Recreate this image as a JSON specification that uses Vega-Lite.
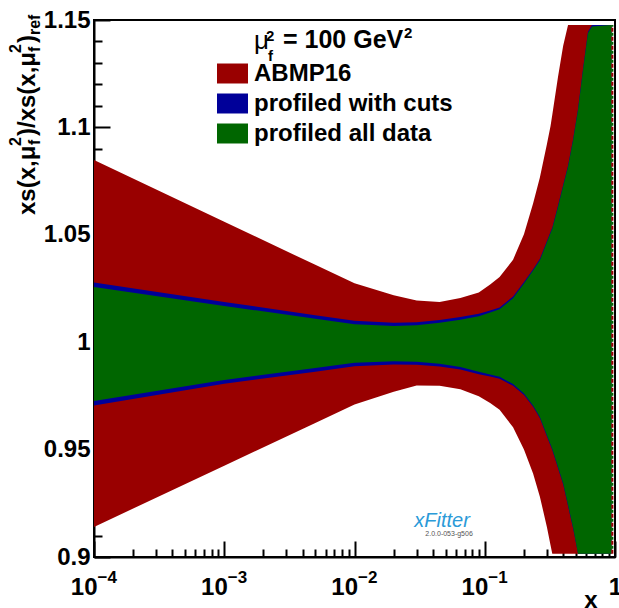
{
  "$schema": "https://vega.github.io/schema/vega-lite/v6.json",
  "width": 521,
  "height": 537,
  "autosize": {"type": "none"},
  "padding": {"left": 94, "top": 20, "right": 4, "bottom": 51},
  "config": {
    "view": {"stroke": "black", "strokeWidth": 2},
    "font": "Liberation Sans",
    "axis": {"grid": false, "tickColor": "black", "domainColor": "black", "labelColor": "black", "titleColor": "black", "zindex": 1}
  },
  "datasets": {
    "bands": [
      {"set": "ABMP16", "x": 0.0001, "lo": 0.914, "hi": 1.0848},
      {"set": "ABMP16", "x": 0.001, "lo": 0.9425, "hi": 1.0561},
      {"set": "ABMP16", "x": 0.005, "lo": 0.9624, "hi": 1.036},
      {"set": "ABMP16", "x": 0.01, "lo": 0.971, "hi": 1.0274},
      {"set": "ABMP16", "x": 0.02, "lo": 0.9769, "hi": 1.0218},
      {"set": "ABMP16", "x": 0.03, "lo": 0.9798, "hi": 1.0194},
      {"set": "ABMP16", "x": 0.045, "lo": 0.9797, "hi": 1.0187},
      {"set": "ABMP16", "x": 0.065, "lo": 0.9781, "hi": 1.0206},
      {"set": "ABMP16", "x": 0.09, "lo": 0.9748, "hi": 1.0231},
      {"set": "ABMP16", "x": 0.11, "lo": 0.9717, "hi": 1.0269},
      {"set": "ABMP16", "x": 0.13, "lo": 0.9685, "hi": 1.0303},
      {"set": "ABMP16", "x": 0.165, "lo": 0.9604, "hi": 1.0384},
      {"set": "ABMP16", "x": 0.2, "lo": 0.95, "hi": 1.0503},
      {"set": "ABMP16", "x": 0.235, "lo": 0.9389, "hi": 1.0646},
      {"set": "ABMP16", "x": 0.265, "lo": 0.9281, "hi": 1.0767},
      {"set": "ABMP16", "x": 0.3, "lo": 0.914, "hi": 1.0922},
      {"set": "ABMP16", "x": 0.32, "lo": 0.9055, "hi": 1.1007},
      {"set": "ABMP16", "x": 0.33, "lo": 0.9015, "hi": 1.1059},
      {"set": "ABMP16", "x": 0.365, "lo": 0.9015, "hi": 1.1235},
      {"set": "ABMP16", "x": 0.4, "lo": 0.9015, "hi": 1.138},
      {"set": "ABMP16", "x": 0.436, "lo": 0.9015, "hi": 1.1477},
      {"set": "ABMP16", "x": 0.94, "lo": 0.9015, "hi": 1.1477},

      {"set": "profiled with cuts", "x": 0.0001, "lo": 0.9705, "hi": 1.0278},
      {"set": "profiled with cuts", "x": 0.001, "lo": 0.9806, "hi": 1.0187},
      {"set": "profiled with cuts", "x": 0.005, "lo": 0.9863, "hi": 1.0126},
      {"set": "profiled with cuts", "x": 0.01, "lo": 0.9888, "hi": 1.01},
      {"set": "profiled with cuts", "x": 0.02, "lo": 0.9896, "hi": 1.0091},
      {"set": "profiled with cuts", "x": 0.03, "lo": 0.9895, "hi": 1.0093},
      {"set": "profiled with cuts", "x": 0.045, "lo": 0.9887, "hi": 1.0103},
      {"set": "profiled with cuts", "x": 0.065, "lo": 0.9873, "hi": 1.0117},
      {"set": "profiled with cuts", "x": 0.09, "lo": 0.9851, "hi": 1.0132},
      {"set": "profiled with cuts", "x": 0.11, "lo": 0.984, "hi": 1.0148},
      {"set": "profiled with cuts", "x": 0.13, "lo": 0.983, "hi": 1.0162},
      {"set": "profiled with cuts", "x": 0.165, "lo": 0.9797, "hi": 1.0213},
      {"set": "profiled with cuts", "x": 0.2, "lo": 0.9754, "hi": 1.028},
      {"set": "profiled with cuts", "x": 0.235, "lo": 0.9699, "hi": 1.034},
      {"set": "profiled with cuts", "x": 0.265, "lo": 0.9646, "hi": 1.0388},
      {"set": "profiled with cuts", "x": 0.3, "lo": 0.9561, "hi": 1.0471},
      {"set": "profiled with cuts", "x": 0.32, "lo": 0.9518, "hi": 1.0514},
      {"set": "profiled with cuts", "x": 0.33, "lo": 0.9497, "hi": 1.0534},
      {"set": "profiled with cuts", "x": 0.365, "lo": 0.9413, "hi": 1.0636},
      {"set": "profiled with cuts", "x": 0.4, "lo": 0.9337, "hi": 1.0733},
      {"set": "profiled with cuts", "x": 0.436, "lo": 0.9236, "hi": 1.0823},
      {"set": "profiled with cuts", "x": 0.476, "lo": 0.9134, "hi": 1.0944},
      {"set": "profiled with cuts", "x": 0.52, "lo": 0.9015, "hi": 1.1087},
      {"set": "profiled with cuts", "x": 0.568, "lo": 0.9015, "hi": 1.1273},
      {"set": "profiled with cuts", "x": 0.62, "lo": 0.9015, "hi": 1.1445},
      {"set": "profiled with cuts", "x": 0.666, "lo": 0.9015, "hi": 1.1477},
      {"set": "profiled with cuts", "x": 0.94, "lo": 0.9015, "hi": 1.1477},

      {"set": "profiled all data", "x": 0.0001, "lo": 0.9726, "hi": 1.0257},
      {"set": "profiled all data", "x": 0.001, "lo": 0.9824, "hi": 1.0169},
      {"set": "profiled all data", "x": 0.005, "lo": 0.988, "hi": 1.0109},
      {"set": "profiled all data", "x": 0.01, "lo": 0.9904, "hi": 1.0084},
      {"set": "profiled all data", "x": 0.02, "lo": 0.9911, "hi": 1.0076},
      {"set": "profiled all data", "x": 0.03, "lo": 0.9909, "hi": 1.0079},
      {"set": "profiled all data", "x": 0.045, "lo": 0.99, "hi": 1.009},
      {"set": "profiled all data", "x": 0.065, "lo": 0.9885, "hi": 1.0105},
      {"set": "profiled all data", "x": 0.09, "lo": 0.9862, "hi": 1.0121},
      {"set": "profiled all data", "x": 0.11, "lo": 0.985, "hi": 1.0138},
      {"set": "profiled all data", "x": 0.13, "lo": 0.9839, "hi": 1.0153},
      {"set": "profiled all data", "x": 0.165, "lo": 0.9805, "hi": 1.0205},
      {"set": "profiled all data", "x": 0.2, "lo": 0.9761, "hi": 1.0273},
      {"set": "profiled all data", "x": 0.235, "lo": 0.9705, "hi": 1.0334},
      {"set": "profiled all data", "x": 0.265, "lo": 0.9652, "hi": 1.0382},
      {"set": "profiled all data", "x": 0.3, "lo": 0.9567, "hi": 1.0465},
      {"set": "profiled all data", "x": 0.32, "lo": 0.9524, "hi": 1.0508},
      {"set": "profiled all data", "x": 0.33, "lo": 0.9503, "hi": 1.0528},
      {"set": "profiled all data", "x": 0.365, "lo": 0.9419, "hi": 1.063},
      {"set": "profiled all data", "x": 0.4, "lo": 0.9343, "hi": 1.0727},
      {"set": "profiled all data", "x": 0.436, "lo": 0.9242, "hi": 1.0817},
      {"set": "profiled all data", "x": 0.476, "lo": 0.914, "hi": 1.0938},
      {"set": "profiled all data", "x": 0.52, "lo": 0.9015, "hi": 1.1081},
      {"set": "profiled all data", "x": 0.568, "lo": 0.9015, "hi": 1.1267},
      {"set": "profiled all data", "x": 0.62, "lo": 0.9015, "hi": 1.1439},
      {"set": "profiled all data", "x": 0.666, "lo": 0.9015, "hi": 1.147},
      {"set": "profiled all data", "x": 0.94, "lo": 0.9015, "hi": 1.1477}
    ],
    "edge": [
      {"x": 0.955, "lo": 0.9015, "hi": 1.1477}
    ]
  },
  "data": {"name": "bands"},
  "layer": [
    {
      "transform": [{"filter": "datum.set === 'ABMP16'"}],
      "mark": {"type": "area", "opacity": 1},
      "encoding": {
        "x": {
          "field": "x", "type": "quantitative",
          "scale": {"type": "log", "domain": [0.0001, 1], "nice": false},
          "axis": {
            "orient": "bottom",
            "values": [0.0001, 0.001, 0.01, 0.1, 1],
            "labelExpr": "datum.value >= 0.5 ? '1' : '10'",
            "tickSize": -16, "tickWidth": 2,
            "domainWidth": 2,
            "labelFont": "Liberation Sans", "labelFontWeight": "bold", "labelFontSize": 24,
            "labelPadding": 53, "labelBaseline": "alphabetic",
            "labelAlign": {"condition": {"test": "datum.value >= 0.5", "value": "center"}, "value": "right"},
            "labelOffset": {"condition": {"test": "datum.value >= 0.5", "value": 0}, "value": 3},
            "labelFlush": false, "labelOverlap": false, "labelBound": false,
            "title": "x",
            "titleFont": "Liberation Sans", "titleFontWeight": "bold", "titleFontSize": 24,
            "titleAnchor": "end", "titleAlign": "right", "titleBaseline": "alphabetic",
            "titleX": 503, "titleY": 50
          }
        },
        "y": {
          "field": "lo", "type": "quantitative",
          "scale": {"domain": [0.9, 1.15], "nice": false, "zero": false},
          "axis": {
            "orient": "left",
            "values": [0.9, 0.95, 1, 1.05, 1.1, 1.15],
            "format": "~g",
            "tickSize": -16, "tickWidth": 2,
            "domainWidth": 2,
            "labelFont": "Liberation Sans", "labelFontWeight": "bold", "labelFontSize": 24,
            "labelPadding": 20, "labelAlign": "right", "labelBaseline": "middle",
            "labelFlush": false, "labelOverlap": false, "labelBound": false,
            "title": null
          }
        },
        "y2": {"field": "hi"},
        "color": {
          "field": "set", "type": "nominal",
          "scale": {
            "domain": ["ABMP16", "profiled with cuts", "profiled all data"],
            "range": ["#990000", "#000099", "#006600"]
          },
          "legend": {
            "orient": "none", "legendX": 123, "legendY": 38,
            "title": null, "padding": 0,
            "symbolType": "M-1,-0.645L1,-0.645L1,0.645L-1,0.645Z",
            "symbolSize": 961, "symbolStrokeWidth": 0, "symbolOpacity": 1,
            "labelFont": "Liberation Sans", "labelFontWeight": "bold", "labelFontSize": 24,
            "labelColor": "black", "labelOffset": 6, "labelLimit": 0,
            "rowPadding": 2
          }
        }
      }
    },
    {
      "transform": [{"filter": "datum.set === 'profiled with cuts'"}],
      "mark": {"type": "area", "opacity": 1},
      "encoding": {
        "x": {
          "field": "x", "type": "quantitative",
          "axis": {
            "orient": "bottom",
            "values": [0.0002, 0.0003, 0.0004, 0.0005, 0.0006, 0.0007, 0.0008, 0.0009,
                       0.002, 0.003, 0.004, 0.005, 0.006, 0.007, 0.008, 0.009,
                       0.02, 0.03, 0.04, 0.05, 0.06, 0.07, 0.08, 0.09,
                       0.2, 0.3, 0.4, 0.5, 0.6, 0.7, 0.8, 0.9],
            "tickSize": -8, "tickWidth": 2,
            "labels": false, "domain": false, "title": null
          }
        },
        "y": {
          "field": "lo", "type": "quantitative",
          "axis": {
            "orient": "left",
            "values": [0.91, 0.92, 0.93, 0.94, 0.96, 0.97, 0.98, 0.99,
                       1.01, 1.02, 1.03, 1.04, 1.06, 1.07, 1.08, 1.09,
                       1.11, 1.12, 1.13, 1.14],
            "tickSize": -8, "tickWidth": 2,
            "labels": false, "domain": false, "title": null
          }
        },
        "y2": {"field": "hi"},
        "color": {"field": "set", "type": "nominal"}
      }
    },
    {
      "transform": [{"filter": "datum.set === 'profiled all data'"}],
      "mark": {"type": "area", "opacity": 1},
      "encoding": {
        "x": {
          "field": "x", "type": "quantitative",
          "axis": {
            "orient": "bottom",
            "values": [0.0001, 0.001, 0.01, 0.1],
            "labelExpr": "datum.value >= 0.05 ? '−1' : datum.value >= 0.005 ? '−2' : datum.value >= 0.0005 ? '−3' : '−4'",
            "ticks": false, "tickSize": 0, "domain": false,
            "labelFont": "Liberation Sans", "labelFontWeight": "bold", "labelFontSize": 17,
            "labelPadding": 25, "labelBaseline": "alphabetic", "labelAlign": "left", "labelOffset": 3,
            "labelFlush": false, "labelOverlap": false, "labelBound": false,
            "title": null
          }
        },
        "y": {"field": "lo", "type": "quantitative", "axis": null},
        "y2": {"field": "hi"},
        "color": {"field": "set", "type": "nominal"}
      }
    },
    {
      "data": {"name": "edge"},
      "mark": {"type": "rule", "color": "#990000", "strokeWidth": 2, "strokeDash": [4, 5]},
      "encoding": {
        "x": {"field": "x", "type": "quantitative", "axis": null},
        "y": {"field": "lo", "type": "quantitative", "axis": null},
        "y2": {"field": "hi"}
      }
    },
    {
      "data": {"name": "edge"},
      "mark": {"type": "rule", "color": "#006600", "strokeWidth": 2, "strokeDash": [3, 6], "strokeDashOffset": 4},
      "encoding": {
        "x": {"field": "x", "type": "quantitative", "axis": null},
        "y": {"field": "lo", "type": "quantitative", "axis": null},
        "y2": {"field": "hi"}
      }
    },
    {
      "data": {"values": [{}]},
      "encoding": {
        "x": {"datum": 0.0001, "type": "quantitative", "axis": null},
        "y": {"datum": 1.15, "type": "quantitative", "axis": null}
      },
      "layer": [
        {"mark": {"type": "text", "text": "xs(x,μ", "angle": -90, "align": "left", "baseline": "alphabetic", "font": "Liberation Sans", "fontWeight": "bold", "fontSize": 24, "color": "black", "dx": -195, "dy": -59}},
        {"mark": {"type": "text", "text": "2", "angle": -90, "align": "left", "baseline": "alphabetic", "font": "Liberation Sans", "fontWeight": "bold", "fontSize": 16, "color": "black", "dx": -126, "dy": -73}},
        {"mark": {"type": "text", "text": "f", "angle": -90, "align": "left", "baseline": "alphabetic", "font": "Liberation Sans", "fontWeight": "bold", "fontSize": 16, "color": "black", "dx": -125, "dy": -54}},
        {"mark": {"type": "text", "text": ")/xs(x,μ", "angle": -90, "align": "left", "baseline": "alphabetic", "font": "Liberation Sans", "fontWeight": "bold", "fontSize": 24, "color": "black", "dx": -116, "dy": -59}},
        {"mark": {"type": "text", "text": "2", "angle": -90, "align": "left", "baseline": "alphabetic", "font": "Liberation Sans", "fontWeight": "bold", "fontSize": 16, "color": "black", "dx": -33, "dy": -73}},
        {"mark": {"type": "text", "text": "f", "angle": -90, "align": "left", "baseline": "alphabetic", "font": "Liberation Sans", "fontWeight": "bold", "fontSize": 16, "color": "black", "dx": -32, "dy": -54}},
        {"mark": {"type": "text", "text": ")", "angle": -90, "align": "left", "baseline": "alphabetic", "font": "Liberation Sans", "fontWeight": "bold", "fontSize": 24, "color": "black", "dx": -23, "dy": -59}},
        {"mark": {"type": "text", "text": "ref", "angle": -90, "align": "left", "baseline": "alphabetic", "font": "Liberation Sans", "fontWeight": "bold", "fontSize": 16, "color": "black", "dx": -15, "dy": -54}},
        {"mark": {"type": "text", "text": "μ", "align": "left", "baseline": "alphabetic", "font": "Liberation Sans", "fontSize": 26, "color": "black", "dx": 160, "dy": 29}},
        {"mark": {"type": "text", "text": "2", "align": "left", "baseline": "alphabetic", "font": "Liberation Sans", "fontWeight": "bold", "fontSize": 15, "color": "black", "dx": 172, "dy": 21}},
        {"mark": {"type": "text", "text": "f", "align": "left", "baseline": "alphabetic", "font": "Liberation Sans", "fontWeight": "bold", "fontSize": 15, "color": "black", "dx": 174, "dy": 41}},
        {"mark": {"type": "text", "text": "= 100 GeV", "align": "left", "baseline": "alphabetic", "font": "Liberation Sans", "fontWeight": "bold", "fontSize": 25, "color": "black", "dx": 189, "dy": 28}},
        {"mark": {"type": "text", "text": "2", "align": "left", "baseline": "alphabetic", "font": "Liberation Sans", "fontWeight": "bold", "fontSize": 15, "color": "black", "dx": 310, "dy": 18}}
      ]
    },
    {
      "data": {"values": [{}]},
      "encoding": {
        "x": {"datum": 0.047, "type": "quantitative", "axis": null},
        "y": {"datum": 0.914, "type": "quantitative", "axis": null}
      },
      "layer": [
        {"mark": {"type": "text", "text": "xFitter", "align": "center", "baseline": "alphabetic", "font": "Liberation Sans", "fontStyle": "italic", "fontSize": 20, "color": "#2b9ad8"}},
        {"mark": {"type": "text", "text": "2.0.0-053-g506", "align": "center", "baseline": "alphabetic", "font": "Liberation Sans", "fontSize": 7, "color": "#555555", "dx": 7, "dy": 9}}
      ]
    }
  ],
  "resolve": {"axis": {"x": "independent", "y": "independent"}}
}
